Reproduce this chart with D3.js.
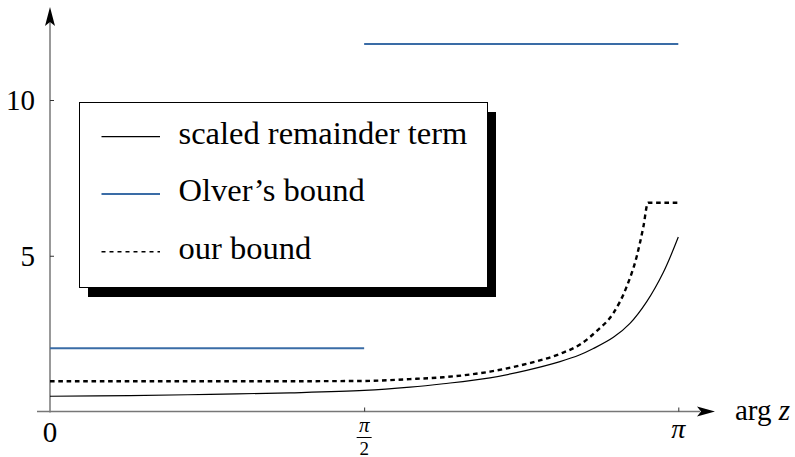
<!DOCTYPE html>
<html><head><meta charset="utf-8">
<script src="https://cdn.jsdelivr.net/npm/d3@7"></script>
<style>
html,body{margin:0;padding:0;background:#fff;}
svg text{font-family:"Liberation Serif","DejaVu Serif",serif;fill:#000;}
</style></head>
<body>
<svg id="chart" width="795" height="457"></svg>
<script>
const PI = Math.PI;
// scaled remainder term (solid)
const remX = [0, 0.4, 0.8, 1.2, 1.571, 1.8, 1.967, 2.2, 2.383, 2.55, 2.65, 2.717, 2.817, 2.9, 2.983, 3.067, PI];
const remY = [0.49, 0.51, 0.55, 0.60, 0.675, 0.78, 0.89, 1.08, 1.32, 1.60, 1.82, 2.02, 2.38, 2.83, 3.52, 4.47, 5.6];
// our bound (dashed)
const ourX = [0, 0.5, 1.0, 1.571, 1.8, 1.967, 2.2, 2.383, 2.55, 2.65, 2.733, 2.817, 2.883, 2.933, 2.967, 2.99, PI];
const ourY = [0.97, 0.97, 0.97, 0.98, 1.04, 1.10, 1.28, 1.53, 1.85, 2.15, 2.58, 3.16, 4.0, 4.96, 5.93, 6.70, 6.70];
// Olver's bound (piecewise constant)
const olverStart = [0, PI / 2];
const olverEnd = [PI / 2, PI];
const olverVal = [2.03, 11.8];
const yTicks = [5, 10];
const xTicks = [0, PI / 2, PI];
const legendLabels = ["scaled remainder term", "Olver\u2019s bound", "our bound"];

const svg = d3.select("#chart");
const x = d3.scaleLinear().domain([0, PI]).range([50, 678.3]);
const y = d3.scaleLinear().domain([0, 10]).range([411.5, 100]);
const blue = "#3a6ca6";
const axisGray = "#777";

// axes lines with arrows
svg.append("line").attr("x1", 37).attr("x2", 700).attr("y1", y(0)).attr("y2", y(0))
  .attr("stroke", axisGray).attr("stroke-width", 1.5);
svg.append("line").attr("x1", x(0)).attr("x2", x(0)).attr("y1", y(0) + 1).attr("y2", 22)
  .attr("stroke", axisGray).attr("stroke-width", 1.5);
svg.append("path").attr("d", `M715,${y(0)} L697,${y(0) - 5} L701,${y(0)} L697,${y(0) + 5} Z`).attr("fill", "#000");
svg.append("path").attr("d", `M${x(0)},7 L${x(0) - 5},26 L${x(0)},22 L${x(0) + 5},26 Z`).attr("fill", "#000");

// y axis ticks via d3 axis
const yAxis = d3.axisLeft(y).tickValues(yTicks).tickSizeInner(-4).tickSizeOuter(0).tickPadding(15).tickFormat(d3.format("d"));
const gy = svg.append("g").attr("transform", `translate(${x(0)},0)`).call(yAxis);
gy.select(".domain").remove();
gy.selectAll(".tick line").attr("stroke", "#333").attr("stroke-width", 1);
gy.selectAll(".tick text").attr("font-size", 29).attr("font-family", "Liberation Serif").attr("dy", "0.33em");

// x axis ticks
const xAxis = d3.axisBottom(x).tickValues(xTicks).tickSizeInner(-4).tickSizeOuter(0).tickFormat("");
const gx = svg.append("g").attr("transform", `translate(0,${y(0)})`).call(xAxis);
gx.select(".domain").remove();
gx.selectAll(".tick line").attr("stroke", "#333").attr("stroke-width", 1)
  .filter(d => d === 0).remove();

// x tick labels
svg.append("text").attr("x", x(0)).attr("y", 442).attr("text-anchor", "middle").attr("font-size", 29).text("0");
svg.append("text").attr("x", x(PI)).attr("y", 438).attr("text-anchor", "middle").attr("font-size", 28).attr("font-style", "italic").text("\u03c0");
svg.append("text").attr("x", x(PI / 2)).attr("y", 432).attr("text-anchor", "middle").attr("font-size", 21).attr("font-style", "italic").text("\u03c0");
svg.append("line").attr("x1", x(PI / 2) - 7.5).attr("x2", x(PI / 2) + 7.5).attr("y1", 437.5).attr("y2", 437.5).attr("stroke", "#000").attr("stroke-width", 1);
svg.append("text").attr("x", x(PI / 2)).attr("y", 454.5).attr("text-anchor", "middle").attr("font-size", 19).text("2");
// axis label
const al = svg.append("text").attr("x", 735).attr("y", 420).attr("font-size", 29);
al.append("tspan").text("arg ");
al.append("tspan").attr("font-style", "italic").text("z");

// Olver's bound
svg.append("g").selectAll("line").data(olverVal).join("line")
  .attr("x1", (d, i) => x(olverStart[i])).attr("x2", (d, i) => x(olverEnd[i]))
  .attr("y1", d => y(d)).attr("y2", d => y(d))
  .attr("stroke", blue).attr("stroke-width", 2);

// our bound
const lineM = d3.line().x(d => x(d[0])).y(d => y(d[1])).curve(d3.curveMonotoneX);
const lineC = d3.line().x(d => x(d[0])).y(d => y(d[1])).curve(d3.curveCatmullRom.alpha(0.5));
svg.append("path").datum(ourX.map((v, i) => [v, ourY[i]])).attr("d", lineM)
  .attr("fill", "none").attr("stroke", "#000").attr("stroke-width", 2.4).attr("stroke-dasharray", "4.6,3.7");
// remainder
svg.append("path").datum(remX.map((v, i) => [v, remY[i]])).attr("d", lineC)
  .attr("fill", "none").attr("stroke", "#000").attr("stroke-width", 1.2);

// legend
const lx = 79.5, ly = 102.5, lw = 408, lh = 185;
svg.append("rect").attr("x", lx + 8.5).attr("y", ly + 9.5).attr("width", lw).attr("height", lh).attr("fill", "#000");
svg.append("rect").attr("x", lx).attr("y", ly).attr("width", lw).attr("height", lh).attr("fill", "#fff").attr("stroke", "#000").attr("stroke-width", 1);
const legStyles = [
  {stroke: "#000", w: 1.2, dash: null},
  {stroke: blue, w: 2, dash: null},
  {stroke: "#000", w: 1.6, dash: "4,4"}
];
const legY = [136.7, 194, 251.7];
const lg = svg.append("g").selectAll("g").data(legendLabels).join("g");
lg.append("line").attr("x1", 101.5).attr("x2", 160).attr("y1", (d, i) => legY[i]).attr("y2", (d, i) => legY[i])
  .attr("stroke", (d, i) => legStyles[i].stroke).attr("stroke-width", (d, i) => legStyles[i].w)
  .attr("stroke-dasharray", (d, i) => legStyles[i].dash);
lg.append("text").attr("x", 178.5).attr("y", (d, i) => legY[i] + 7).attr("font-size", 32.5).text(d => d);
</script>
</body></html>
